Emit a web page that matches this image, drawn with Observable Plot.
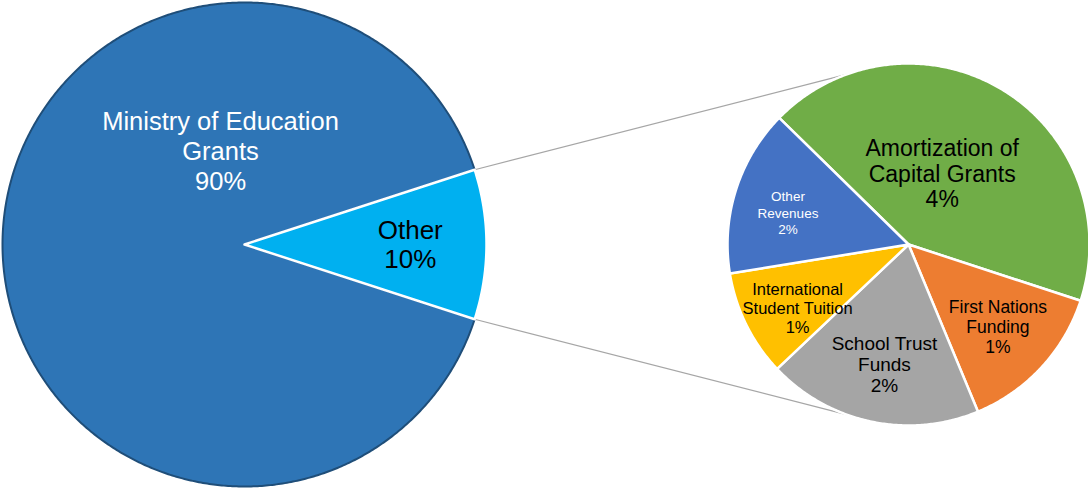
<!DOCTYPE html>
<html><head><meta charset="utf-8">
<script src="https://cdn.jsdelivr.net/npm/d3@7"></script>
<script src="https://cdn.jsdelivr.net/npm/@observablehq/plot@0.6"></script>
<style>html,body{margin:0;padding:0;background:#fff;} #chart{width:1088px;height:488px;overflow:hidden;}</style>
</head><body><div id="chart"></div>
<script>
// ---- data ----
const mainCategories = ["Other", "Ministry of Education Grants"];
const mainValues = [10, 90];
const mainLabels = ["Other\n10%", "Ministry of Education\nGrants\n90%"];

const otherCategories = ["Amortization of Capital Grants", "First Nations Funding", "School Trust Funds", "International Student Tuition", "Other Revenues"];
const otherValues = [4.27, 1.37, 1.92, 0.95, 1.49];
const otherLabels = ["Amortization of\nCapital Grants\n4%", "First Nations\nFunding\n1%", "School Trust\nFunds\n2%", "International\nStudent Tuition\n1%", "Other\nRevenues\n2%"];

// ---- layout / style ----
const W = 1088, H = 488, PX = 242;
const mainC = [0, 0], mainR = 1;
const secC = [2.744, 0], secR = 0.748;
const deg = Math.PI / 180;

const colorDomain = [...mainCategories, ...otherCategories];
const colorRange = ["#00B0F0", "#2E75B6", "#70AD47", "#ED7D31", "#A5A5A5", "#FFC000", "#4472C4"];

// label placement relative to pie centre, as fractions of radius (y up)
const mainLabelStyle = [
  {dx: 0.685, dy: 0.0, size: 26, lh: 1.12, color: "#000"},
  {dx: -0.099, dy: 0.388, size: 25.5, lh: 1.16, color: "#fff"}
];
const otherLabelStyle = [
  {dx: 0.186, dy: 0.392, size: 23, lh: 1.09, color: "#000"},
  {dx: 0.494, dy: -0.453, size: 17.5, lh: 1.14, color: "#000"},
  {dx: -0.133, dy: -0.663, size: 19, lh: 1.1, color: "#000"},
  {dx: -0.613, dy: -0.351, size: 16.5, lh: 1.15, color: "#000"},
  {dx: -0.666, dy: 0.177, size: 13.5, lh: 1.22, color: "#fff"}
];

const mainArcs = d3.pie().sort(null).startAngle(72 * deg).endAngle(432 * deg)(mainValues);
const secStart = 314.4 * deg;
const otherArcs = d3.pie().sort(null).startAngle(secStart).endAngle(secStart + 2 * Math.PI)(otherValues);

function polar(c, r, a) { return [c[0] + r * Math.sin(a), c[1] + r * Math.cos(a)]; }

function slicePolys(arcs, names, c, r) {
  const pts = [];
  arcs.forEach((a, i) => {
    const name = names[i];
    pts.push({name, x: c[0], y: c[1]});
    const n = Math.max(2, Math.ceil((a.endAngle - a.startAngle) / (0.5 * deg)));
    for (let k = 0; k <= n; k++) {
      const t = a.startAngle + (a.endAngle - a.startAngle) * k / n;
      const [x, y] = polar(c, r, t);
      pts.push({name, x, y});
    }
  });
  return pts;
}

const mainPts = slicePolys(mainArcs, mainCategories, mainC, mainR);
const otherPts = slicePolys(otherArcs, otherCategories, secC, secR);

// connector lines: from the corners of "Other" to the secondary pie
const oa = mainArcs[0];
const [tx1, ty1] = polar(mainC, mainR, oa.startAngle);
const [bx1, by1] = polar(mainC, mainR, oa.endAngle);
const [tx2, ty2] = polar(secC, secR, 340 * deg);
const [bx2, by2] = polar(secC, secR, 200 * deg);
const connectors = [
  {x1: tx1, y1: ty1, x2: tx2, y2: ty2},
  {x1: bx1, y1: by1, x2: bx2, y2: by2}
];

function labelMarks(labels, styles, c, r) {
  return labels.map((t, i) => {
    const s = styles[i];
    return Plot.text([{t, x: c[0] + s.dx * r, y: c[1] + s.dy * r}], {
      x: "x", y: "y", text: "t", fill: s.color, fontSize: s.size,
      lineHeight: s.lh, lineAnchor: "middle", textAnchor: "middle"
    });
  });
}

const chart = Plot.plot({
  width: W, height: H, margin: 0,
  x: {domain: [-244 / PX, (W - 244) / PX], axis: null},
  y: {domain: [-244 / PX, 244 / PX], axis: null},
  color: {domain: colorDomain, range: colorRange},
  style: {fontFamily: "'Liberation Sans', Arial, sans-serif", background: "#fff"},
  marks: [
    Plot.link(connectors, {x1: "x1", y1: "y1", x2: "x2", y2: "y2", stroke: "#A6A6A6", strokeWidth: 1.2}),
    Plot.line(mainPts.filter(d => d.name === mainCategories[1]), {x: "x", y: "y", z: "name", fill: "name", stroke: "#1F4E79", strokeWidth: 2, curve: "linear-closed"}),
    Plot.line(mainPts.filter(d => d.name === mainCategories[0]), {x: "x", y: "y", z: "name", fill: "name", stroke: "#fff", strokeWidth: 2.5, curve: "linear-closed"}),
    Plot.line(otherPts, {x: "x", y: "y", z: "name", fill: "name", stroke: "#fff", strokeWidth: 2.5, curve: "linear-closed"}),
    ...labelMarks(mainLabels, mainLabelStyle, mainC, mainR),
    ...labelMarks(otherLabels, otherLabelStyle, secC, secR)
  ]
});
document.getElementById("chart").appendChild(chart);
</script>
</body></html>
